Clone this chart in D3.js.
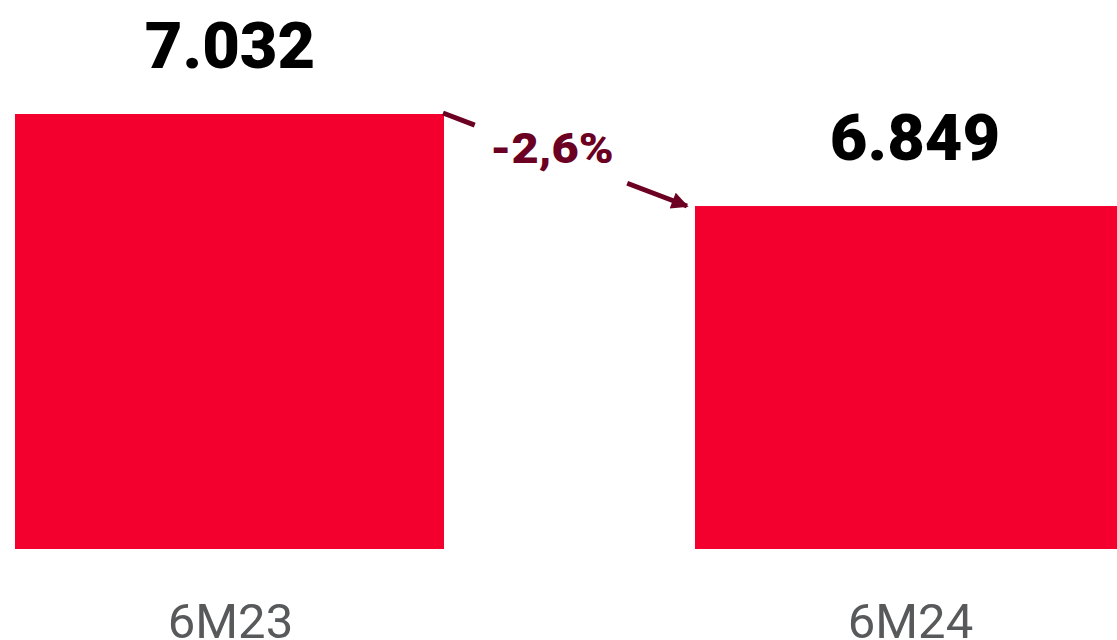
<!DOCTYPE html>
<html><head><meta charset="utf-8">
<script src="https://cdn.jsdelivr.net/npm/d3@7"></script>
<style>html,body{margin:0;padding:0;background:#fff;overflow:hidden}</style>
</head><body><svg id="c" width="1117" height="640"></svg>
<script>
const categories = ["6M23", "6M24"];
const values = [7032, 6849];
const valueLabels = ["7.032", "6.849"];
const changeLabel = "-2,6%";

const svg = d3.select("#c");
const x = d3.scaleBand().domain(categories).range([15, 1124]).paddingInner(0.3691).paddingOuter(0);
const y = d3.scaleLinear().domain([6167, 7032]).range([549, 114]);
const bw = x.bandwidth();

svg.append("defs").append("marker")
  .attr("id","ah").attr("viewBox","0 0 10 10").attr("refX",9).attr("refY",5)
  .attr("markerWidth",4.2).attr("markerHeight",3.4).attr("markerUnits","strokeWidth").attr("orient","auto")
  .append("path").attr("d","M0,0L10,5L0,10Z").attr("fill","#6b0022");

svg.selectAll("rect.bar").data(categories).join("rect")
  .attr("x", d => x(d)).attr("width", bw)
  .attr("y", (d,i) => y(values[i])).attr("height", (d,i) => y.range()[0] - y(values[i]))
  .attr("fill", "#f4002e");

svg.selectAll("text.val").data(categories).join("text")
  .attr("x", (d,i) => i === 0 ? x(d) + bw/2 + 0.5 : x(d) + bw/2 + 5.5).attr("y", (d,i) => y(values[i]) - 46)
  .attr("text-anchor","middle").attr("font-family","Roboto, sans-serif").attr("font-weight",900)
  .attr("font-size",65).attr("fill","#000").text((d,i) => valueLabels[i]);

svg.selectAll("text.cat").data(categories).join("text")
  .attr("x", d => x(d) + bw/2 + 1).attr("y", 638)
  .attr("text-anchor","middle").attr("font-family","Roboto, sans-serif")
  .attr("font-size",49).attr("fill","#58595b").text(d => d);

// change arrow from bar 1 top-right to bar 2 top-left
const x0 = x(categories[0]) + bw - 1, y0 = y(values[0]) - 1;
const x1 = x(categories[1]) - 8, y1 = y(values[1]);
const P = t => [x0 + (x1 - x0)*t, y0 + (y1 - y0)*t];
const a = P(0), b = P(0.13), c = P(0.755), e = P(1);
svg.append("line").attr("x1",a[0]).attr("y1",a[1]).attr("x2",b[0]).attr("y2",b[1])
  .attr("stroke","#6b0022").attr("stroke-width",5);
svg.append("line").attr("x1",c[0]).attr("y1",c[1]).attr("x2",e[0]).attr("y2",e[1])
  .attr("stroke","#6b0022").attr("stroke-width",5).attr("marker-end","url(#ah)");
svg.append("text").attr("transform","translate(552,163) scale(1.12,1)").attr("text-anchor","middle")
  .attr("font-family","Roboto, sans-serif").attr("font-weight",900).attr("font-size",42)
  .attr("fill","#6b0022").text(changeLabel);
</script></body></html>
